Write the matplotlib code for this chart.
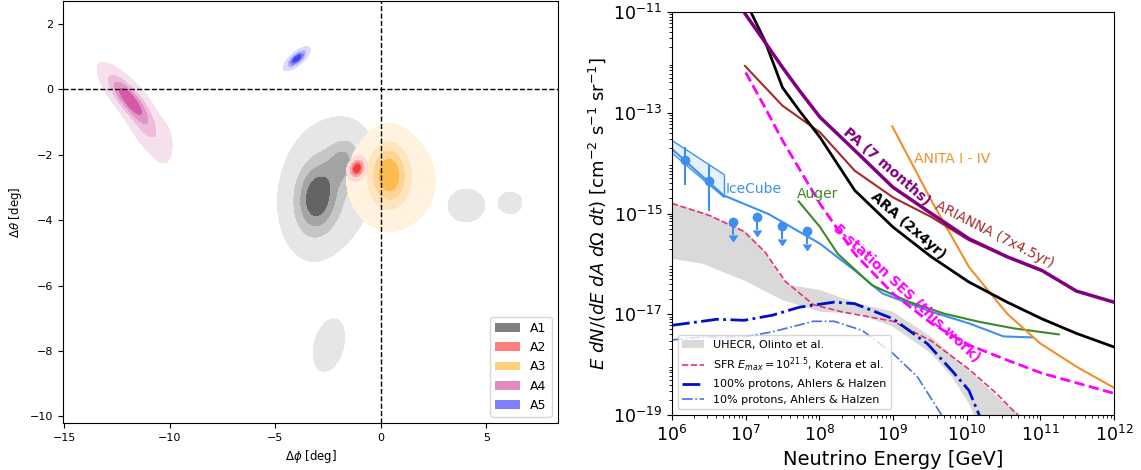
import numpy as np
import matplotlib
matplotlib.use("Agg")
import matplotlib.pyplot as plt
from matplotlib.patches import Patch

# ---------------- left panel: blobs ----------------
# each component: (phi, theta, sigma_phi, sigma_theta, rho, weight)
A1_COMPONENTS = [(-3.05, -3.35, 0.62, 0.7, 0.1, 1.0),
                 (-1.8, -2.2, 0.5, 0.45, 0.2, 0.55),
                 (-2.5, -2.95, 1.2, 1.1, 0.2, 0.4),
                 (4.05, -3.55, 0.6, 0.35, 0.0, 0.19),
                 (6.15, -3.47, 0.43, 0.26, 0.0, 0.15),
                 (-2.45, -7.82, 0.55, 0.59, 0.3, 0.17)]
A2_COMPONENTS = [(-1.12, -2.42, 0.2, 0.16, 0.2, 1.0)]
A3_COMPONENTS = [(0.38, -2.58, 0.55, 0.6, 0.0, 1.0),
                 (0.5, -2.8, 1.15, 0.8, 0.0, 0.35)]
A4_COMPONENTS = [(-12.0, -0.25, 0.6, 0.45, -0.8, 1.0),
                 (-11.2, -1.0, 0.55, 0.55, -0.7, 0.4),
                 (-10.3, -1.6, 0.3, 0.4, 0.0, 0.1)]
A5_COMPONENTS = [(-3.97, 0.94, 0.26, 0.15, 0.75, 1.0)]

GROUP_NAMES = ["A1", "A2", "A3", "A4", "A5"]
GROUP_COLORS = ["black", "red", "orange", "mediumvioletred", "blue"]
LEVEL_FRACTIONS = [0.05, 0.2875, 0.525, 0.7625]
FILL_COLORS = [["#e6e6e6", "#c6c6c6", "#a4a4a4", "#646464"],
               ["#fcdada", "#f8aaaa", "#f57a7a", "#f03c3c"],
               ["#fff2de", "#fee5bd", "#fed492", "#fbbc4c"],
               ["#f6e0ee", "#ecbcdc", "#e194c8", "#d45aa8"],
               ["#dadafc", "#b2b2fa", "#8080f6", "#4646f0"]]

# ---------------- right panel: curves (log10 E [GeV], log10 flux) ----------------
PA_LOGE = [6.99, 7.22, 7.50, 7.73, 8.01, 8.39, 9.0, 9.52, 10.03, 10.55, 11.02, 11.49, 12.0]
PA_LOGF = [-11.03, -11.51, -12.10, -12.56, -13.09, -13.62, -14.48, -15.0, -15.5, -15.86, -16.13, -16.54, -16.76]

ARA_LOGE = [7.07, 7.26, 7.50, 7.73, 8.01, 8.48, 9.0, 9.52, 10.03, 10.55, 11.02, 11.49, 12.0]
ARA_LOGF = [-11.0, -11.57, -12.50, -12.96, -13.49, -14.54, -15.27, -15.86, -16.36, -16.76, -17.09, -17.38, -17.65]

ARIANNA_LOGE = [6.99, 7.50, 8.01, 8.48, 9.0, 9.52, 10.03, 10.55, 11.0]
ARIANNA_LOGF = [-12.07, -12.86, -13.39, -14.15, -14.68, -15.07, -15.53, -15.86, -16.13]

ANITA_LOGE = [8.99, 9.52, 10.03, 10.55, 11.0, 11.49, 12.0]
ANITA_LOGF = [-13.27, -14.74, -16.06, -16.99, -17.58, -18.04, -18.46]

SES_LOGE = [7.0, 7.26, 7.5, 8.01, 8.48, 9.0, 9.52, 10.03, 10.55, 11.02, 12.0]
SES_LOGF = [-12.2, -12.89, -13.55, -14.81, -15.8, -16.59, -17.18, -17.61, -17.91, -18.17, -18.57]

AUGER_LOGE = [7.72, 8.01, 8.25, 8.72, 9.23, 9.70, 10.17, 10.64, 11.25]
AUGER_LOGF = [-14.76, -15.27, -15.8, -16.43, -16.76, -16.99, -17.15, -17.28, -17.40]

ICECUBE_LOGE = [6.0, 6.70, 7.31, 8.01, 8.48, 8.86, 9.52, 10.03, 10.5, 10.9]
ICECUBE_LOGF = [-13.72, -14.64, -15.01, -15.60, -16.13, -16.59, -16.95, -17.18, -17.44, -17.46]

# IceCube astrophysical flux: measured points and upper limits
ICE_PTS_LOGE = [6.17, 6.50]
ICE_PTS_LOGF = [-13.94, -14.36]
ICE_PTS_ERR_LO = [-14.44, -14.95]
ICE_PTS_ERR_HI = [-13.68, -14.04]
ICE_UL_LOGE = [6.83, 7.16, 7.50, 7.83]
ICE_UL_LOGF = [-15.16, -15.07, -15.24, -15.34]
ICE_BAND_LOGE = [6.0, 6.70]
ICE_BAND_HI = [-13.55, -14.22]
ICE_BAND_LO = [-13.8, -14.67]

UHECR_UP_LOGE = [6.0, 6.42, 6.98, 7.26, 7.5, 7.6, 8.01, 8.53, 9.0, 9.52, 10.03, 10.46, 10.74, 10.8]
UHECR_UP_LOGF = [-14.8, -14.97, -15.33, -15.75, -16.3, -16.42, -16.52, -16.79, -16.95, -17.45, -18.11, -18.7, -19.0, -19.5]
UHECR_LO_LOGE = [6.0, 6.42, 6.98, 7.5, 8.01, 8.53, 9.0, 9.52, 9.8, 10.03, 10.1, 10.15]
UHECR_LO_LOGF = [-15.9, -16.0, -16.33, -16.72, -16.95, -16.99, -17.25, -17.78, -18.24, -18.77, -19.0, -19.5]

SFR_LOGE = [6.0, 6.51, 6.98, 7.26, 7.54, 7.92, 8.3, 9.0, 9.52, 10.03, 10.41, 10.69, 10.75]
SFR_LOGF = [-14.8, -15.04, -15.36, -15.76, -16.35, -16.81, -16.95, -17.14, -17.53, -18.09, -18.58, -19.0, -19.2]

P100_LOGE = [6.0, 6.61, 6.98, 7.36, 7.73, 8.2, 8.48, 9.0, 9.47, 9.8, 10.03, 10.17, 10.2]
P100_LOGF = [-17.22, -17.1, -17.12, -17.02, -16.86, -16.76, -16.79, -17.09, -17.59, -18.12, -18.51, -19.0, -19.2]

P10_LOGE = [6.0, 6.42, 6.98, 7.36, 7.92, 8.2, 8.58, 9.0, 9.33, 9.66, 9.7]
P10_LOGF = [-17.51, -17.45, -17.45, -17.35, -17.14, -17.14, -17.32, -17.78, -18.24, -19.0, -19.2]


def blob_density(gx, gy, comps):
    z = np.zeros_like(gx)
    for cx, cy, sx, sy, rho, w in comps:
        dx = (gx - cx) / sx
        dy = (gy - cy) / sy
        q = (dx**2 - 2 * rho * dx * dy + dy**2) / (1 - rho**2)
        z += w * np.exp(-0.5 * q)
    return z


def p(vals):
    return 10.0 ** np.asarray(vals)


fig = plt.figure(figsize=(11.41, 4.70), dpi=100)

# ----------- left panel -----------
ax1 = fig.add_axes([63 / 1141, 47 / 470, 495 / 1141, 422 / 470])
gx, gy = np.meshgrid(np.linspace(-16, 9, 500), np.linspace(-11, 3.5, 400))
all_comps = [A1_COMPONENTS, A2_COMPONENTS, A3_COMPONENTS, A4_COMPONENTS, A5_COMPONENTS]
draw_order = [0, 2, 1, 3, 4]
for i in draw_order:
    z = blob_density(gx, gy, all_comps[i])
    zmax = z.max()
    levels = [f * zmax for f in LEVEL_FRACTIONS] + [zmax * 1.01]
    ax1.contourf(gx, gy, z, levels=levels, colors=FILL_COLORS[i])

ax1.axhline(0, color="k", ls="--", lw=1)
ax1.axvline(0, color="k", ls="--", lw=1)
ax1.set_xlim(-15.05, 8.4)
ax1.set_ylim(-10.2, 2.7)
ax1.set_xticks([-15, -10, -5, 0, 5])
ax1.set_yticks([-10, -8, -6, -4, -2, 0, 2])
ax1.tick_params(labelsize=8)
ax1.set_xlabel(r"$\Delta\phi$ [deg]", fontsize=8.5)
ax1.set_ylabel(r"$\Delta\theta$ [deg]", fontsize=8.5)
handles = [Patch(facecolor=c, alpha=0.5, label=n) for c, n in zip(GROUP_COLORS, GROUP_NAMES)]
ax1.legend(handles=handles, loc="lower right", fontsize=9)

# ----------- right panel -----------
ax2 = fig.add_axes([672 / 1141, 55 / 470, 442 / 1141, 403 / 470])
ax2.set_xscale("log")
ax2.set_yscale("log")

ax2.fill(np.concatenate([p(UHECR_UP_LOGE), p(UHECR_LO_LOGE)[::-1]]),
         np.concatenate([p(UHECR_UP_LOGF), p(UHECR_LO_LOGF)[::-1]]),
         color="#d9d9d9", lw=0, label="UHECR, Olinto et al.")
ax2.plot(p(SFR_LOGE), p(SFR_LOGF), color="#e8307a", ls="--", lw=1.2,
         label=r"SFR $E_{max}=10^{21.5}$, Kotera et al.")
ax2.plot(p(P100_LOGE), p(P100_LOGF), color="#0010c8", ls="-.", lw=2,
         label="100% protons, Ahlers & Halzen")
ax2.plot(p(P10_LOGE), p(P10_LOGF), color="#4a6ee0", ls="-.", lw=1.2,
         label="10% protons, Ahlers & Halzen")

ice_color = "#3f8ff0"
ax2.fill_between(p(ICE_BAND_LOGE), p(ICE_BAND_LO), p(ICE_BAND_HI), color=ice_color,
                 alpha=0.12, lw=0)
ax2.plot(p(ICE_BAND_LOGE), p(ICE_BAND_HI), color=ice_color, lw=1)
ax2.plot(p(ICE_BAND_LOGE), p(ICE_BAND_LO), color=ice_color, lw=1)
ax2.vlines(p(ICE_BAND_LOGE), p(ICE_BAND_LO), p(ICE_BAND_HI), color=ice_color, lw=1)
pts = p(ICE_PTS_LOGF)
ax2.errorbar(p(ICE_PTS_LOGE), pts,
             yerr=[pts - p(ICE_PTS_ERR_LO), p(ICE_PTS_ERR_HI) - pts],
             fmt="o", color=ice_color, ms=6, lw=1.5)
ul = p(ICE_UL_LOGF)
ax2.errorbar(p(ICE_UL_LOGE), ul, yerr=ul * (1 - 10**-0.26), uplims=True,
             fmt="o", color=ice_color, ms=6, lw=1.5, capsize=3)
ax2.plot(p(ICECUBE_LOGE), p(ICECUBE_LOGF), color=ice_color, lw=1.5)

ax2.plot(p(AUGER_LOGE), p(AUGER_LOGF), color="#3a8a2a", lw=1.5)
ax2.plot(p(ANITA_LOGE), p(ANITA_LOGF), color="#f28e2b", lw=1.5)
ax2.plot(p(ARIANNA_LOGE), p(ARIANNA_LOGF), color="#a52a2a", lw=1.5)
ax2.plot(p(ARA_LOGE), p(ARA_LOGF), color="black", lw=2)
ax2.plot(p(PA_LOGE), p(PA_LOGF), color="purple", lw=2.5)
ax2.plot(p(SES_LOGE), p(SES_LOGF), color="magenta", ls="--", lw=2)

ax2.text(10**7.11, 10**-14.51, "IceCube", color=ice_color, fontsize=10, ha="center", va="center")
ax2.text(10**7.97, 10**-14.61, "Auger", color="#3a8a2a", fontsize=10, ha="center", va="center")
ax2.text(10**9.80, 10**-13.92, "ANITA I - IV", color="#f28e2b", fontsize=10, ha="center", va="center")
ax2.text(10**8.91, 10**-14.08, "PA (7 months)", color="purple", fontsize=10, fontweight="bold",
         rotation=-41, ha="center", va="center")
ax2.text(10**9.21, 10**-15.24, "ARA (2x4yr)", color="black", fontsize=10, fontweight="bold",
         rotation=-41, ha="center", va="center")
ax2.text(10**10.38, 10**-15.42, "ARIANNA (7x4.5yr)", color="#a52a2a", fontsize=10,
         rotation=-27, ha="center", va="center")
ax2.text(10**9.19, 10**-16.59, "5-station SES (this work)", color="magenta", fontsize=10,
         fontweight="bold", rotation=-43, ha="center", va="center")

ax2.set_xlim(1e6, 1e12)
ax2.set_ylim(1e-19, 1e-11)
ax2.set_yticks([1e-19, 1e-17, 1e-15, 1e-13, 1e-11])
ax2.tick_params(labelsize=12.5)
ax2.set_xlabel("Neutrino Energy [GeV]", fontsize=14)
ax2.set_ylabel(r"$E\ dN/(dE\ dA\ d\Omega\ dt)$ [cm$^{-2}$ s$^{-1}$ sr$^{-1}$]", fontsize=13)
ax2.legend(loc="lower left", fontsize=8)

fig.savefig("out.png", dpi=100)
